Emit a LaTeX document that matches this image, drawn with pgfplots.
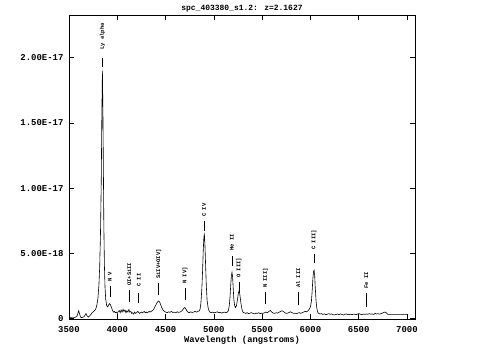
\documentclass[border=0pt]{standalone}
\usepackage{fontspec}
\setmainfont{Liberation Mono}
\usepackage{pgfplots}
\pgfplotsset{compat=1.18}
\pgfplotstableread{
lam f
3500 0.05
3520 0.08
3540 0.05
3560 0.10
3580 0.15
3590 0.35
3600 0.60
3610 0.35
3620 0.10
3635 0.08
3650 0.12
3665 0.25
3676 0.38
3688 0.20
3700 0.12
3712 0.20
3725 0.30
3740 0.45
3755 0.55
3770 0.65
3780 0.80
3790 1.10
3800 1.60
3810 2.60
3818 4.00
3826 6.50
3834 10.5
3840 15.5
3846 19.0
3851 16.0
3856 11.5
3861 7.00
3867 4.00
3873 2.40
3880 1.50
3890 1.00
3900 0.90
3910 1.05
3920 1.15
3930 1.05
3940 0.85
3950 0.65
3960 0.50
3970 0.55
3980 0.45
3990 0.50
4000 0.40
4010 0.55
4020 0.62
4030 0.45
4040 0.66
4050 0.50
4060 0.70
4070 0.55
4080 0.66
4090 0.45
4100 0.60
4110 0.50
4120 0.70
4130 0.50
4140 0.55
4150 0.40
4160 0.45
4170 0.35
4180 0.50
4190 0.40
4200 0.45
4210 0.55
4220 0.50
4230 0.40
4240 0.45
4250 0.50
4260 0.45
4270 0.50
4280 0.55
4290 0.45
4300 0.50
4310 0.45
4320 0.50
4330 0.55
4340 0.50
4350 0.55
4360 0.60
4370 0.65
4380 0.75
4390 0.90
4400 1.05
4410 1.20
4420 1.30
4430 1.35
4440 1.25
4450 1.05
4460 0.85
4470 0.70
4480 0.60
4490 0.55
4500 0.50
4515 0.45
4530 0.52
4545 0.48
4560 0.55
4575 0.47
4590 0.50
4605 0.44
4620 0.52
4635 0.48
4650 0.50
4660 0.55
4670 0.60
4680 0.70
4690 0.80
4700 0.85
4710 0.75
4720 0.60
4730 0.50
4745 0.46
4760 0.52
4775 0.47
4790 0.50
4805 0.55
4820 0.50
4835 0.55
4850 0.60
4858 0.75
4866 1.20
4875 2.20
4883 3.60
4890 5.20
4897 6.30
4902 6.45
4908 5.60
4915 4.00
4922 2.50
4930 1.40
4940 0.85
4950 0.60
4960 0.50
4975 0.45
4990 0.50
5005 0.44
5020 0.48
5035 0.52
5050 0.45
5065 0.48
5080 0.42
5095 0.47
5110 0.50
5125 0.46
5140 0.50
5150 0.60
5160 1.00
5168 1.70
5175 2.60
5182 3.30
5188 3.55
5194 3.20
5200 2.40
5207 1.50
5215 1.00
5225 0.85
5235 1.00
5245 1.50
5255 2.00
5262 2.15
5270 1.80
5280 1.20
5290 0.75
5300 0.50
5315 0.45
5330 0.40
5345 0.45
5360 0.38
5375 0.42
5390 0.46
5405 0.40
5420 0.36
5435 0.42
5450 0.40
5465 0.45
5480 0.38
5495 0.42
5510 0.40
5525 0.45
5540 0.50
5555 0.45
5570 0.55
5585 0.62
5600 0.50
5615 0.42
5630 0.40
5645 0.45
5660 0.42
5675 0.48
5690 0.55
5705 0.60
5720 0.55
5735 0.45
5750 0.40
5765 0.42
5780 0.48
5795 0.52
5810 0.45
5825 0.40
5840 0.42
5855 0.38
5870 0.42
5885 0.46
5900 0.40
5915 0.45
5930 0.50
5945 0.55
5960 0.52
5975 0.60
5990 0.75
6000 0.90
6010 1.30
6018 2.10
6025 3.00
6032 3.60
6038 3.70
6044 3.30
6050 2.40
6058 1.40
6066 0.80
6075 0.50
6085 0.40
6100 0.35
6115 0.38
6130 0.32
6145 0.36
6160 0.30
6175 0.34
6190 0.38
6205 0.33
6220 0.36
6235 0.30
6250 0.28
6265 0.32
6280 0.35
6295 0.30
6310 0.36
6325 0.32
6340 0.28
6355 0.33
6370 0.36
6385 0.32
6400 0.30
6415 0.34
6430 0.30
6445 0.35
6460 0.33
6475 0.30
6490 0.36
6505 0.38
6520 0.33
6535 0.30
6550 0.35
6565 0.32
6580 0.36
6595 0.33
6610 0.38
6625 0.34
6640 0.36
6655 0.32
6670 0.40
6685 0.35
6700 0.38
6715 0.34
6730 0.38
6745 0.42
6760 0.48
6775 0.50
6790 0.42
6800 0.32
7000 0.32
}\spec
\begin{document}
\begin{tikzpicture}
\begin{axis}[
  name=ax,
  at={(0,0)}, anchor=south west,
  scale only axis,
  width=346bp, height=304bp,
  xmin=3500, xmax=7083,
  ymin=-0.03, ymax=23.26,
  xtick={3500,4000,...,7000},
  ytick={0,5,10,15,20},
  yticklabels={0,5.00E-18,1.00E-17,1.50E-17,2.00E-17},
  /pgf/number format/1000 sep={},
  /pgf/number format/assume math mode=true,
  major tick length=5bp,
  minor tick num=0,
  tick style={black, line width=0.6pt},
  axis line style={line width=0.7pt},
  ticklabel style={font=\fontsize{9}{9}\selectfont\bfseries},
  xticklabel style={anchor=base, yshift=-13bp},
  yticklabel style={anchor=east, xshift=-2bp},
  title={spc\_403380\_s1.2: z=2.1627},
  title style={at={(0.5,1)}, anchor=base, yshift=-1bp, font=\fontsize{8}{8}\selectfont\bfseries},
  xlabel={Wavelength (angstroms)},
  xlabel style={at={(0.5,0)}, anchor=base, yshift=-23bp, font=\fontsize{8.8}{8.8}\selectfont\bfseries},
  clip=true,
]
\addplot[black, line width=0.6pt] table[x=lam, y=f] {\spec};
\begin{scope}[every node/.style={rotate=90, anchor=west, inner sep=0pt, font=\fontsize{5.5}{5.5}\selectfont\bfseries}]
\draw[line width=0.5pt] (axis cs:3846,19.27) -- (axis cs:3846,19.96);
\node at (axis cs:3846,20.6) {Ly alpha};
\draw[line width=0.5pt] (axis cs:3922,1.66) -- (axis cs:3922,2.50);
\node at (axis cs:3922,2.8) {N V};
\draw[line width=0.5pt] (axis cs:4124,1.27) -- (axis cs:4124,2.19);
\node at (axis cs:4124,2.5) {OI+SiII};
\draw[line width=0.5pt] (axis cs:4222,1.19) -- (axis cs:4222,1.96);
\node at (axis cs:4222,2.42) {C II};
\draw[line width=0.5pt] (axis cs:4428,1.81) -- (axis cs:4428,2.73);
\node at (axis cs:4428,3.03) {SiIV+OIV]};
\draw[line width=0.5pt] (axis cs:4700,1.42) -- (axis cs:4700,2.34);
\node at (axis cs:4700,2.65) {N IV]};
\draw[line width=0.5pt] (axis cs:4899,6.71) -- (axis cs:4899,7.48);
\node at (axis cs:4899,7.78) {C IV};
\draw[line width=0.5pt] (axis cs:5187,4.03) -- (axis cs:5187,4.80);
\node at (axis cs:5187,5.18) {He II};
\draw[line width=0.5pt] (axis cs:5260,1.96) -- (axis cs:5260,2.80);
\node at (axis cs:5260,3.11) {O III]};
\draw[line width=0.5pt] (axis cs:5535,1.12) -- (axis cs:5535,2.04);
\node at (axis cs:5535,2.34) {N III]};
\draw[line width=0.5pt] (axis cs:5874,1.04) -- (axis cs:5874,2.04);
\node at (axis cs:5874,2.34) {Al III};
\draw[line width=0.5pt] (axis cs:6037,4.26) -- (axis cs:6037,4.95);
\node at (axis cs:6037,5.26) {C III]};
\draw[line width=0.5pt] (axis cs:6578,0.89) -- (axis cs:6578,1.96);
\node at (axis cs:6578,2.27) {Fe II};
\end{scope}
\end{axis}
\pgfresetboundingbox
\path[use as bounding box] ([xshift=-69bp,yshift=-39bp]ax.south west) rectangle ([xshift=68bp,yshift=15bp]ax.north east);
\end{tikzpicture}
\end{document}
